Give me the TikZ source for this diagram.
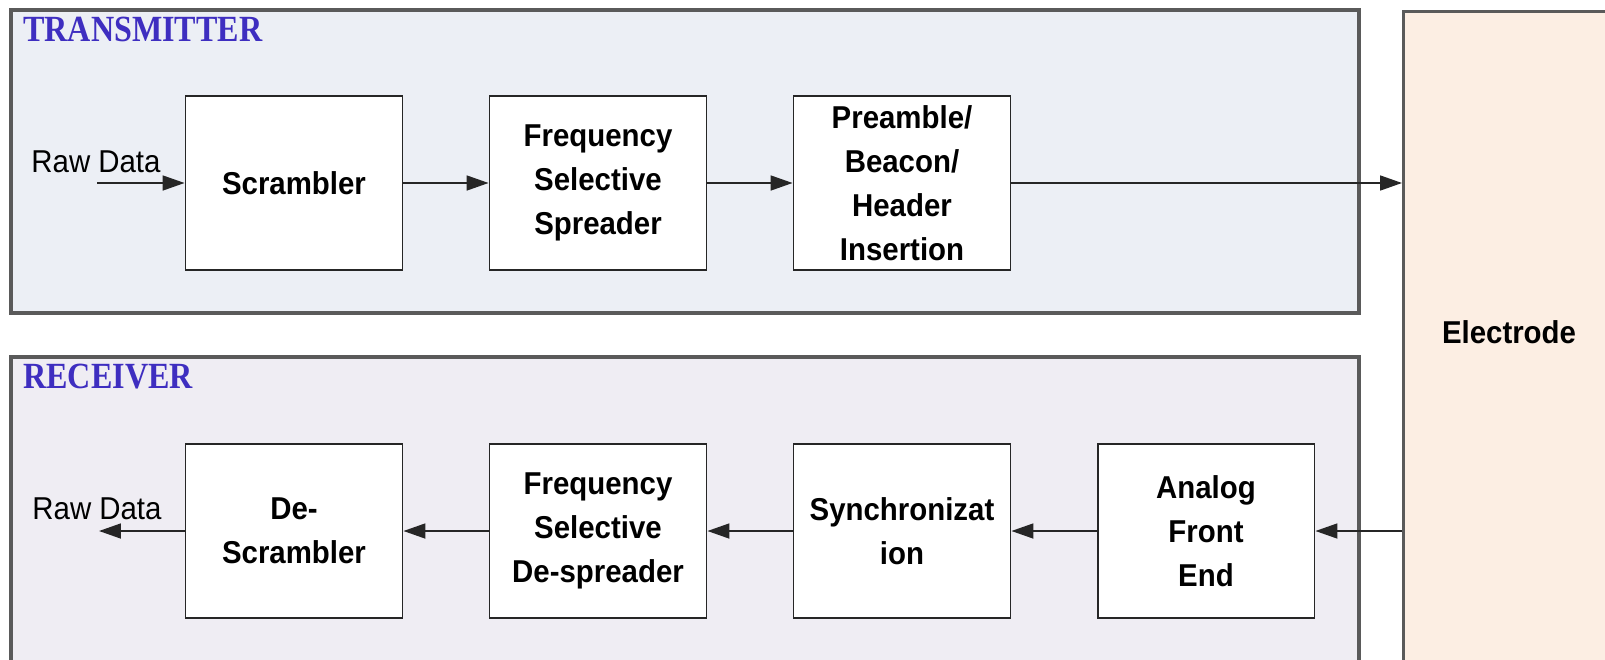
\documentclass[tikz,border=0pt]{standalone}
\usepackage{fontspec}
\setmainfont{Liberation Sans}[FakeStretch=0.93]
\newfontfamily\titlefont[FakeStretch=0.87]{Liberation Serif}
\usetikzlibrary{calc, positioning, arrows.meta}
\definecolor{txfill}{RGB}{236,239,245}
\definecolor{rxfill}{RGB}{239,237,243}
\definecolor{elfill}{RGB}{252,238,227}
\definecolor{ttlblue}{RGB}{62,46,192}
\definecolor{panelline}{RGB}{90,90,90}

\begin{document}
\begin{tikzpicture}[x=0.02cm, y=-0.02cm, >={Triangle[length=0.44cm,width=0.3cm]},
  blk/.style={draw=black!85, line width=1.1pt, fill=white, minimum width=4.34cm, minimum height=3.48cm, align=center, font=\fontsize{18}{25}\selectfont\bfseries, inner sep=0pt},
  panel/.style={draw=panelline, line width=1.8pt},
  ttl/.style={font=\titlefont\fontsize{21}{21}\selectfont\bfseries, text=ttlblue, inner sep=0pt, anchor=north west},
  raw/.style={font=\fontsize{18}{20}\selectfont, inner sep=0pt, anchor=base},
  flow/.style={->, line width=1pt, draw=black!85}]

  \useasboundingbox (0,0) rectangle (1605,659);
  \clip (0,0) rectangle (1605,659);

  % panels
  \draw[panel, fill=txfill] (11,10) rectangle (1359,313);
  \draw[panel, fill=rxfill] (11,357) rectangle (1359,700);
  \node[ttl] (txname) at (23,17) {TRANSMITTER};
  \node[ttl] (rxname) at (23,364) {RECEIVER};

  \node[panel, fill=elfill, anchor=north west, minimum width=4.6cm, minimum height=13.8cm] (elec) at (1402,10) {};
  \node[font=\fontsize{18}{20}\selectfont\bfseries, inner sep=0pt] (electxt) at (1509,332) {Electrode};

  % transmitter chain
  \node[blk] (scr) at (294,183) {Scrambler};
  \node[blk] (fss) at (598,183) {Frequency\\Selective\\Spreader};
  \node[blk] (pbh) at (902,183) {Preamble/\\Beacon/\\Header\\Insertion};

  \node[raw] (rawin) at (96,172) {Raw Data};
  \coordinate (rawstart) at (97,183);

  % receiver chain
  \node[blk] (dsc) at (294,531) {De-\\Scrambler};
  \node[blk] (fsd) at (598,531) {Frequency\\Selective\\De-spreader};
  \node[blk] (syn) at (902,531) {Synchronizat\\ion};
  \node[blk] (afe) at (1206,531) {Analog\\Front\\End};

  \node[raw] (rawout) at (97,519) {Raw Data};
  \coordinate (rawend) at (99,531);

  \draw[flow] (rawstart) -- (scr.west);
  \draw[flow] (scr) -- (fss);
  \draw[flow] (fss) -- (pbh);
  \draw[flow] (pbh.east) -- (pbh.east -| elec.west);

  \draw[flow] (afe.east -| elec.west) -- (afe.east);
  \draw[flow] (afe) -- (syn);
  \draw[flow] (syn) -- (fsd);
  \draw[flow] (fsd) -- (dsc);
  \draw[flow] (dsc.west) -- (rawend);
\end{tikzpicture}
\end{document}
